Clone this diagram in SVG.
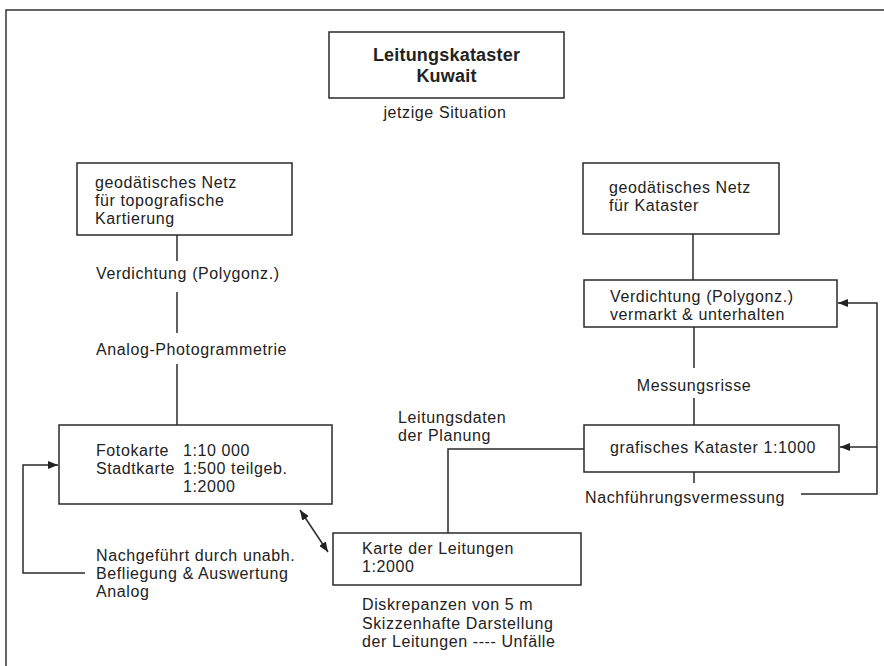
<svg xmlns="http://www.w3.org/2000/svg" width="884" height="666" viewBox="0 0 884 666">
<style>
  .box { fill: #fff; stroke: #2a2a2a; stroke-width: 1.5; }
  .ln { fill: none; stroke: #2a2a2a; stroke-width: 1.5; }
  text { font-family: "Liberation Sans", Arial, sans-serif; font-size: 16px; letter-spacing: 0.6px; fill: #222; }
  .title { font-weight: bold; font-size: 18px; letter-spacing: 0.2px; text-anchor: middle; }
  .mid { text-anchor: middle; }
</style>
<defs>
  <marker id="ah" viewBox="0 0 10 8" refX="10" refY="4" markerWidth="10" markerHeight="8" markerUnits="userSpaceOnUse" orient="auto-start-reverse">
    <path d="M0,0 L10,4 L0,8 Z" fill="#222"/>
  </marker>
</defs>
<rect width="884" height="666" fill="#fff"/>
<rect id="frame" x="6" y="10" width="920" height="720" fill="none" stroke="#333" stroke-width="1.5"/>

<g id="connectors">
  <line class="ln" x1="177" y1="235" x2="177" y2="261"/>
  <line class="ln" x1="177" y1="292" x2="177" y2="333"/>
  <line class="ln" x1="177" y1="364" x2="177" y2="425"/>
  <line class="ln" x1="693" y1="234" x2="693" y2="280"/>
  <line class="ln" x1="694" y1="327" x2="694" y2="368"/>
  <line class="ln" x1="694" y1="398" x2="694" y2="425"/>
  <line class="ln" x1="694" y1="472" x2="694" y2="483"/>
  <polyline class="ln" points="584,449 448,449 448,533"/>
  <polyline class="ln" points="801,494 877,494 877,303 838,303" marker-end="url(#ah)"/>
  <line class="ln" x1="877" y1="447" x2="840" y2="447" marker-end="url(#ah)"/>
  <polyline class="ln" points="85,573 23,573 23,465 58,465" marker-end="url(#ah)"/>
  <line class="ln" x1="300" y1="510" x2="328" y2="552" marker-start="url(#ah)" marker-end="url(#ah)"/>
</g>

<g id="title">
  <rect class="box" x="329" y="32" width="235" height="66"/>
  <text class="title" x="446.5" y="61">Leitungskataster</text>
  <text class="title" x="446.5" y="82">Kuwait</text>
</g>
<text class="mid" x="445" y="118">jetzige Situation</text>

<g id="geod-topo">
  <rect class="box" x="77" y="163" width="215" height="72"/>
  <text x="95" y="188">geodätisches Netz</text>
  <text x="95" y="206">für topografische</text>
  <text x="95" y="224">Kartierung</text>
</g>
<text x="96" y="279">Verdichtung (Polygonz.)</text>
<text x="96" y="355">Analog-Photogrammetrie</text>

<g id="fotokarte">
  <rect class="box" x="59" y="425" width="273" height="79"/>
  <text x="96" y="456">Fotokarte</text>
  <text x="183" y="456">1:10 000</text>
  <text x="96" y="474">Stadtkarte</text>
  <text x="183" y="474">1:500 teilgeb.</text>
  <text x="183" y="492">1:2000</text>
</g>
<text x="96" y="561">Nachgeführt durch unabh.</text>
<text x="96" y="579">Befliegung &amp; Auswertung</text>
<text x="96" y="597">Analog</text>

<g id="karte-leitungen">
  <rect class="box" x="333" y="533" width="248" height="52"/>
  <text x="362" y="554">Karte der Leitungen</text>
  <text x="362" y="572">1:2000</text>
</g>
<text x="362" y="610">Diskrepanzen von 5 m</text>
<text x="362" y="628.5">Skizzenhafte Darstellung</text>
<text x="362" y="647">der Leitungen ---- Unfälle</text>

<text x="398" y="423">Leitungsdaten</text>
<text x="398" y="441">der Planung</text>

<g id="geod-kataster">
  <rect class="box" x="583" y="163" width="196" height="71"/>
  <text x="609" y="193">geodätisches Netz</text>
  <text x="609" y="211">für Kataster</text>
</g>

<g id="verdichtung">
  <rect class="box" x="584" y="280" width="253" height="47"/>
  <text x="610" y="302">Verdichtung (Polygonz.)</text>
  <text x="610" y="320">vermarkt &amp; unterhalten</text>
</g>
<text class="mid" x="694" y="391">Messungsrisse</text>

<g id="grafisches-kataster">
  <rect class="box" x="584" y="425" width="255" height="47"/>
  <text x="610" y="453">grafisches Kataster 1:1000</text>
</g>
<text x="585" y="503">Nachführungsvermessung</text>
</svg>
